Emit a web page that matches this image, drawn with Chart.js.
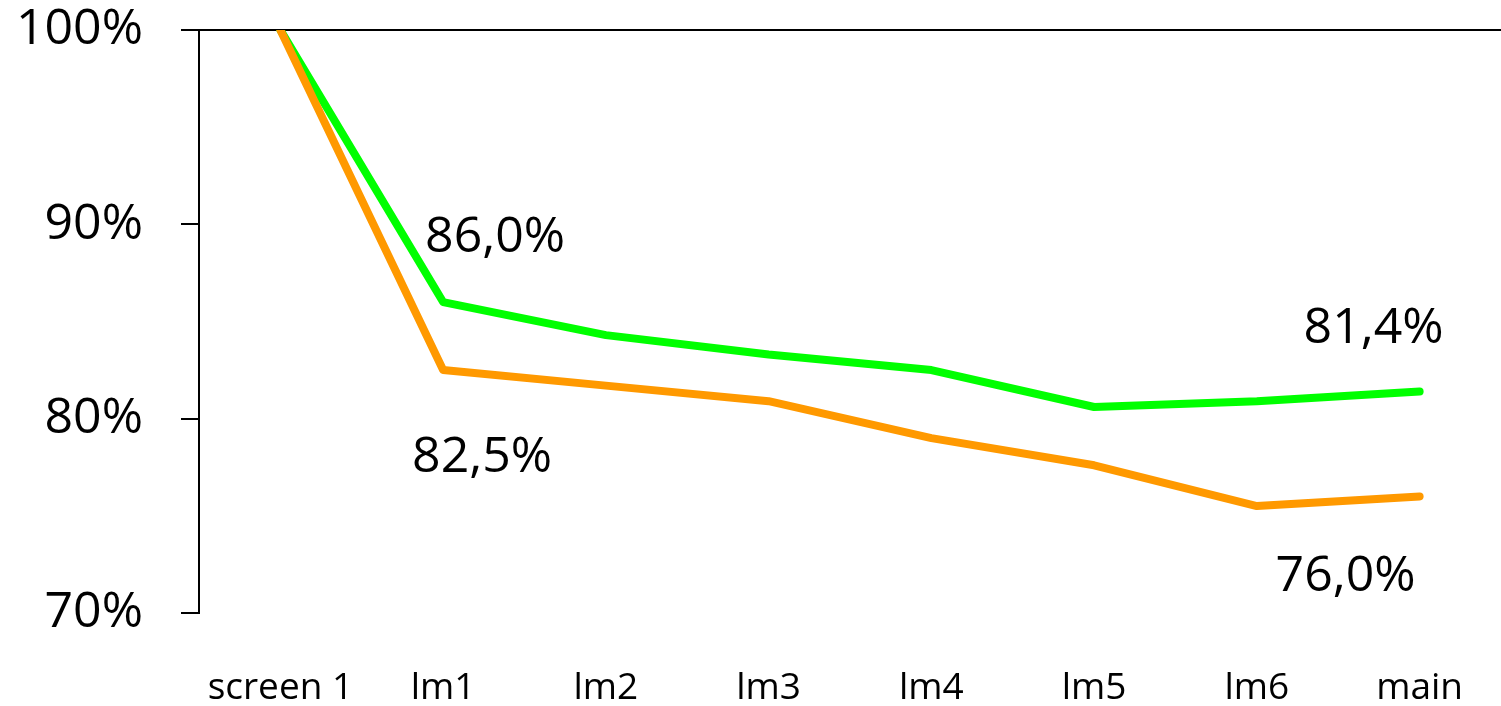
<!DOCTYPE html>
<html>
<head>
<meta charset="utf-8">
<script src="https://cdn.jsdelivr.net/npm/chart.js@4/dist/chart.umd.min.js"></script>
<style>
  html, body { margin: 0; padding: 0; background: #fff; }
  #wrap { width: 1501px; height: 706px; position: relative; }
</style>
</head>
<body>
<div id="wrap"><canvas id="c" width="1501" height="706"></canvas></div>
<script>
// Categories along the x axis
const categories = ['screen 1', 'lm1', 'lm2', 'lm3', 'lm4', 'lm5', 'lm6', 'main'];
// Retention per step, in percent
const greenSeries = [100, 86.0, 84.3, 83.3, 82.5, 80.6, 80.9, 81.4];
const orangeSeries = [100, 82.5, 81.7, 80.9, 79.0, 77.6, 75.5, 76.0];
// Value axis ticks
const yTicks = [70, 80, 90, 100];

const FONT = "'Open Sans', 'Noto Sans', sans-serif";

// Which points carry a value label, and where the label sits relative to the point
const valueLabels = [
  { dataset: 0, index: 1, dx: 52, dy: -50 },
  { dataset: 0, index: 7, dx: -46, dy: -48 },
  { dataset: 1, index: 1, dx: 39, dy: 102 },
  { dataset: 1, index: 7, dx: -74, dy: 95 }
];

const fmt = v => v.toFixed(1).replace('.', ',') + '%';

const valueLabelPlugin = {
  id: 'valueLabels',
  afterDatasetsDraw(chart) {
    const ctx = chart.ctx;
    ctx.save();
    ctx.font = '50px ' + FONT;
    ctx.fillStyle = '#000';
    ctx.textAlign = 'center';
    ctx.textBaseline = 'alphabetic';
    valueLabels.forEach(l => {
      const meta = chart.getDatasetMeta(l.dataset);
      const pt = meta.data[l.index];
      const v = chart.data.datasets[l.dataset].data[l.index];
      ctx.fillText(fmt(v), pt.x + l.dx, pt.y + l.dy);
    });
    ctx.restore();
  }
};

new Chart(document.getElementById('c'), {
  type: 'line',
  data: {
    labels: categories,
    datasets: [
      {
        data: greenSeries,
        borderColor: '#00FF00',
        borderWidth: 8,
        borderCapStyle: 'round',
        borderJoinStyle: 'round',
        pointRadius: 0,
        tension: 0,
        order: 1
      },
      {
        data: orangeSeries,
        borderColor: '#FF9900',
        borderWidth: 8,
        borderCapStyle: 'round',
        borderJoinStyle: 'round',
        pointRadius: 0,
        tension: 0,
        order: 0
      }
    ]
  },
  options: {
    responsive: false,
    animation: false,
    devicePixelRatio: 1,
    layout: { padding: { top: 30, right: -1, bottom: 0, left: 0 } },
    plugins: { legend: { display: false }, tooltip: { enabled: false } },
    scales: {
      x: {
        offset: true,
        grid: { display: false, drawTicks: false },
        border: { display: false },
        ticks: {
          color: '#000',
          font: { family: FONT, size: 37 },
          padding: 53,
          maxRotation: 0,
          autoSkip: false
        },
        afterFit(scale) {
          scale.height = 93;
          scale.paddingLeft = 0;
          scale.paddingRight = 0;
        }
      },
      y: {
        min: yTicks[0],
        max: yTicks[yTicks.length - 1],
        afterBuildTicks(scale) { scale.ticks = yTicks.map(v => ({ value: v })); },
        border: { display: true, color: '#000', width: 2 },
        grid: {
          drawOnChartArea: true,
          color: c => (c.tick && c.tick.value === 100) ? '#000' : 'rgba(0,0,0,0)',
          tickColor: '#000',
          tickLength: 18,
          lineWidth: 2
        },
        ticks: {
          color: '#000',
          font: { family: FONT, size: 50 },
          padding: 38,
          callback: v => v + '%'
        },
        afterFit(scale) {
          scale.width = 199;
          scale.paddingTop = 0;
          scale.paddingBottom = 0;
        }
      }
    }
  },
  plugins: [valueLabelPlugin]
});
</script>
</body>
</html>
